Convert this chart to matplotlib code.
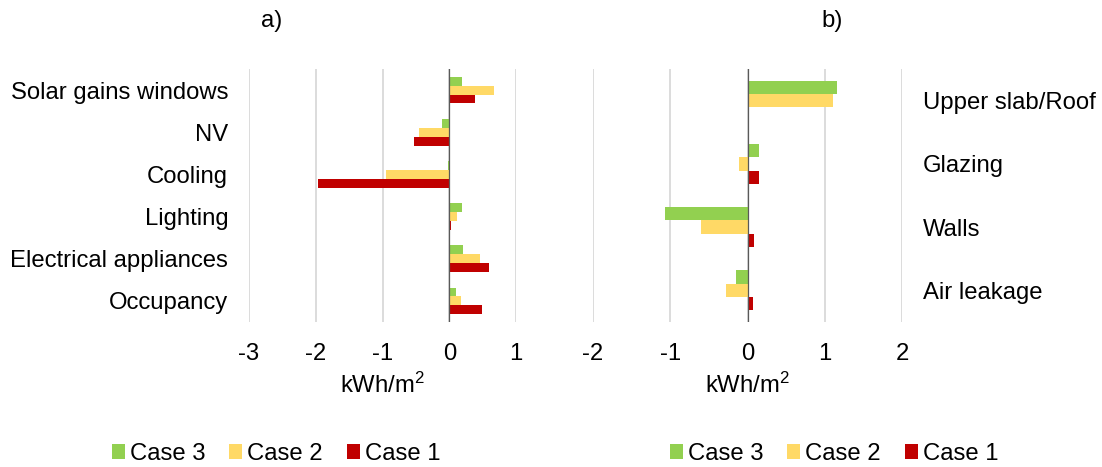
"""Two-panel horizontal bar chart of energy balance differences per case."""

import matplotlib

matplotlib.use("Agg")
import matplotlib.pyplot as plt
import numpy as np
from matplotlib.patches import Patch

plt.rcParams["font.family"] = ["Liberation Sans", "DejaVu Sans"]
plt.rcParams["font.size"] = 17.2
plt.rcParams["mathtext.fontset"] = "custom"
plt.rcParams["mathtext.rm"] = "Liberation Sans"
plt.rcParams["mathtext.it"] = "Liberation Sans"
plt.rcParams["mathtext.default"] = "regular"

# panel a) categories, top to bottom
CATS_A = [
    "Solar gains windows",
    "NV",
    "Cooling",
    "Lighting",
    "Electrical appliances",
    "Occupancy",
]
CASE3_A = [0.185, -0.115, -0.015, 0.185, 0.205, 0.095]
CASE2_A = [0.675, -0.45, -0.95, 0.115, 0.465, 0.18]
CASE1_A = [0.39, -0.53, -1.96, 0.02, 0.595, 0.485]

# panel b) categories, top to bottom
CATS_B = ["Upper slab/Roof", "Glazing", "Walls", "Air leakage"]
CASE3_B = [1.16, 0.153, -1.074, -0.153]
CASE2_B = [1.11, -0.105, -0.607, -0.28]
CASE1_B = [0.0, 0.144, 0.087, 0.07]

SERIES = ["Case 3", "Case 2", "Case 1"]
COLORS = ["#92d050", "#ffd966", "#c00000"]
BAR_H = 0.21


def draw_panel(ax, cats, series_values, xlim, xticks, label_side):
    pos = np.arange(len(cats))
    for k, (vals, color) in enumerate(zip(series_values, COLORS)):
        ax.barh(pos + (k - 1) * BAR_H, vals, height=BAR_H, color=color, zorder=3)
    ax.set_ylim(len(cats) - 0.5, -0.5)
    ax.set_xlim(*xlim)
    ax.set_xticks(xticks)
    ax.set_xticklabels([str(t) for t in xticks])
    ax.set_yticks(pos)
    ax.set_yticklabels(cats)
    for spine in ax.spines.values():
        spine.set_visible(False)
    ax.grid(axis="x", color="#d9d9d9", linewidth=1.3, zorder=0)
    ax.axvline(0, color="#595959", linewidth=0.9, zorder=4)
    ax.tick_params(axis="x", length=0, pad=15)
    if label_side == "right":
        ax.yaxis.tick_right()
    ax.tick_params(axis="y", length=0, pad=15)
    ax.set_xlabel("kWh/m$^{2}$", labelpad=6)


fig = plt.figure(figsize=(11.02, 4.67), dpi=100)
ax_a = fig.add_axes([249 / 1102, 1 - 322 / 467, 267 / 1102, 253 / 467])
ax_b = fig.add_axes([593 / 1102, 1 - 322 / 467, 309 / 1102, 253 / 467])

draw_panel(ax_a, CATS_A, [CASE3_A, CASE2_A, CASE1_A], (-3, 1), [-3, -2, -1, 0, 1], "left")
draw_panel(ax_b, CATS_B, [CASE3_B, CASE2_B, CASE1_B], (-2, 2), [-2, -1, 0, 1, 2], "right")

fig.text(272 / 1102, 1 - 21 / 467, "a)", ha="center", va="center")
fig.text(832 / 1102, 1 - 21 / 467, "b)", ha="center", va="center")

handles = [Patch(facecolor=c, label=s) for s, c in zip(SERIES, COLORS)]
for cx in (276, 834):
    fig.legend(
        handles=handles,
        loc="center",
        bbox_to_anchor=(cx / 1102, 1 - 454 / 467),
        ncol=3,
        frameon=False,
        handlelength=0.55,
        handleheight=0.55,
        handletextpad=0.2,
        columnspacing=1.0,
    )

fig.savefig("out.png", dpi=100)
